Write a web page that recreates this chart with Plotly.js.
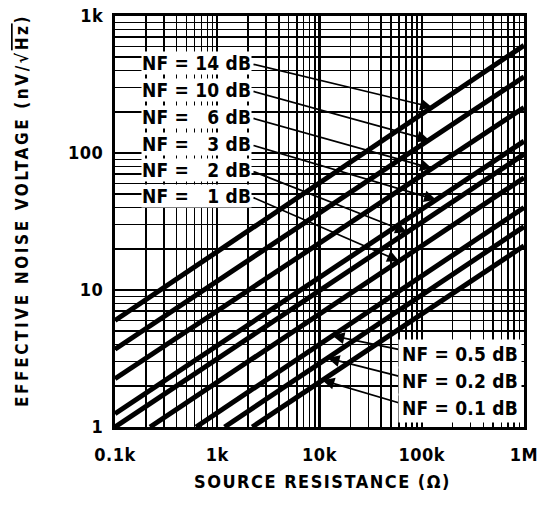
<!DOCTYPE html>
<html><head><meta charset="utf-8">
<script src="https://cdn.plot.ly/plotly-3.0.1.min.js"></script>
<style>html,body{margin:0;padding:0;background:#fff}</style>
</head><body><div id="chart" style="width:545px;height:510px"></div>
<script>
// ---- data ----
const nfLabels = ['14', '10', '6', '3', '2', '1', '0.5', '0.2', '0.1'];
const rStart = [100, 100, 100, 100, 100, 220, 620, 1180, 2200];      // ohms, where each line enters
const vStart = [6.0, 3.7, 2.25, 1.25, 1.0, 1, 1, 1, 1];              // nV/rtHz at entry
const rEnd = [1e6, 1e6, 1e6, 1e6, 1e6, 1e6, 1e6, 1e6, 1e6];           // ohms, where each line exits
const vEnd = [610, 360, 215, 122, 98, 66, 40, 29, 21];               // nV/rtHz at exit
const xTickVals = [100, 1000, 1e4, 1e5, 1e6];
const xTickText = ['0.1k', '1k', '10k', '100k', '1M'];
const yTickVals = [1, 10, 100, 1000];
const yTickText = ['1', '10', '100', '1k'];

// ---- layout helpers ----
const W = 545, H = 510;
const PL = 115, PR = 524, PT = 16, PB = 427;
function lx(px) { return 2 + 4 * (px - PL) / (PR - PL); }
function ly(py) { return 3 * (PB - py) / (PB - PT); }
function vAt(i, r) {
  const a = Math.log10(rStart[i]), b = Math.log10(rEnd[i]);
  const t = (Math.log10(r) - a) / (b - a);
  return Math.log10(vStart[i]) + t * (Math.log10(vEnd[i]) - Math.log10(vStart[i]));
}
function minorVals(d0, d1) {
  const out = [];
  for (let d = d0; d < d1; d++) for (let m = 2; m <= 9; m++) out.push(m * Math.pow(10, d));
  return out;
}

const traces = nfLabels.map((nf, i) => ({
  type: 'scatter', mode: 'lines',
  x: [rStart[i], rEnd[i]], y: [vStart[i], vEnd[i]],
  line: { color: '#000', width: 5 },
  name: 'NF = ' + nf + ' dB', hoverinfo: 'skip', cliponaxis: true
}));

const FN = '"DejaVu Sans Condensed", "DejaVu Sans", sans-serif';
const labFont = { family: FN, size: 19, color: '#000', weight: 700 };
function cond(t, ls) { return '<span style="font-stretch:condensed;letter-spacing:' + ls + 'px">' + t + '</span>'; }

// label layout (pixels)
const upperText = ['NF = 14 dB', 'NF = 10 dB', 'NF = \u20076 dB', 'NF = \u20073 dB', 'NF = \u20072 dB', 'NF = \u20071 dB'];
const upperY = [63, 90, 117, 144, 170, 196];
const upperHeadR = [126e3, 118e3, 126e3, 138e3, 72e3, 60e3];
const lowerText = ['NF = 0.5 dB', 'NF = 0.2 dB', 'NF = 0.1 dB'];
const lowerY = [354, 381, 408];
const lowerHeadR = [13.4e3, 12e3, 10.7e3];

const arrows = [], texts = [];
upperText.forEach((t, k) => {
  const i = k;
  arrows.push({ xref: 'x', yref: 'y', axref: 'x', ayref: 'y',
    x: Math.log10(upperHeadR[k]), y: vAt(i, upperHeadR[k]),
    ax: lx(252), ay: ly(upperY[k] + 1), text: '', showarrow: true,
    arrowhead: 2, arrowsize: 1.4, arrowwidth: 1.7, arrowcolor: '#000' });
  texts.push({ xref: 'x', yref: 'y', x: lx(252), y: ly(upperY[k]), xanchor: 'right', yanchor: 'middle',
    text: cond(t, 0.2), showarrow: false, bgcolor: '#fff', borderpad: 0, font: labFont });
});
lowerText.forEach((t, k) => {
  const i = 6 + k;
  arrows.push({ xref: 'x', yref: 'y', axref: 'x', ayref: 'y',
    x: Math.log10(lowerHeadR[k]), y: vAt(i, lowerHeadR[k]),
    ax: lx(406), ay: ly(lowerY[k] - 3), text: '', showarrow: true,
    arrowhead: 2, arrowsize: 1.4, arrowwidth: 1.7, arrowcolor: '#000' });
  texts.push({ xref: 'x', yref: 'y', x: lx(522), y: ly(lowerY[k]), xanchor: 'right', yanchor: 'middle',
    text: cond(t, 0.2), showarrow: false, bgcolor: '#fff', borderpad: 3, font: labFont });
});

const titles = [
  { xref: 'paper', yref: 'paper', x: (22 - PL) / (PR - PL), y: (PB - 211) / (PB - PT),
    xanchor: 'center', yanchor: 'middle', textangle: -90, showarrow: false,
    text: cond('EFFECTIVE NOISE VOLTAGE (nV/\u221A<span style="text-decoration:overline">Hz</span>)', 2.6),
    font: { family: FN, size: 17, color: '#000', weight: 700 } },
  { xref: 'paper', yref: 'paper', x: (322 - PL) / (PR - PL), y: (PB - 481) / (PB - PT),
    xanchor: 'center', yanchor: 'middle', showarrow: false,
    text: cond('SOURCE RESISTANCE (\u03A9)', 1.5),
    font: { family: FN, size: 18, color: '#000', weight: 700 } }
];

const axisCommon = {
  type: 'log', showline: true, linecolor: '#000', linewidth: 3, mirror: true,
  ticks: '', showgrid: true, gridcolor: '#000', gridwidth: 2.2, zeroline: false,
  tickfont: { family: FN, size: 18, color: '#000', weight: 700 }, fixedrange: true
};

const layout = {
  width: W, height: H, paper_bgcolor: '#fff', plot_bgcolor: '#fff',
  margin: { l: PL, r: W - PR, t: PT, b: H - PB },
  showlegend: false,
  xaxis: Object.assign({}, axisCommon, {
    range: [2, 6], tickvals: xTickVals, ticktext: xTickText.map(t => cond(t, 0.5)),
    ticklabelstandoff: 9,
    minor: { tickvals: minorVals(2, 6), showgrid: true, gridcolor: '#000', gridwidth: 1.5, ticks: '' }
  }),
  yaxis: Object.assign({}, axisCommon, {
    range: [0, 3], tickvals: yTickVals, ticktext: yTickText.map(t => cond(t, 0.5)),
    ticklabelstandoff: 5,
    minor: { tickvals: minorVals(0, 3), showgrid: true, gridcolor: '#000', gridwidth: 1.5, ticks: '' }
  }),
  annotations: arrows.concat(texts).concat(titles)
};

Plotly.newPlot('chart', traces, layout, { displayModeBar: false, staticPlot: true });
</script>
</body></html>
